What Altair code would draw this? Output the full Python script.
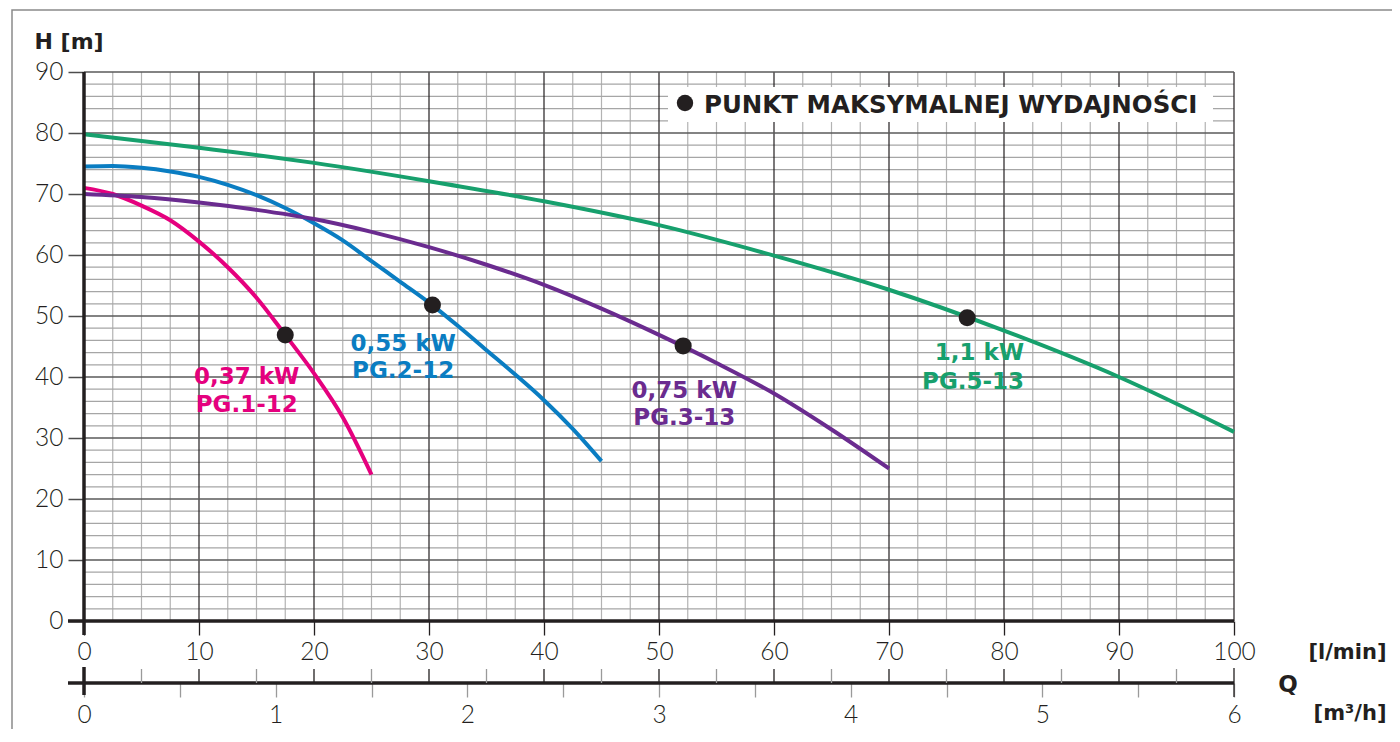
import altair as alt
import numpy as np
import pandas as pd

# ---------------- data ----------------
pink_q = [0, 2.5, 5, 7.5, 10, 12.5, 15, 17.5, 20, 22.5, 25]
pink_h = [71.0, 70.0, 68.1, 65.7, 62.2, 58.0, 53.0, 46.9, 40.6, 33.4, 24.0]

blue_q = [0, 2.5, 5, 7.5, 10, 12.5, 15, 17.5, 20, 22.5, 25, 27.5, 30, 32.5, 35, 37.5, 40, 42.5, 45]
blue_h = [74.5, 74.6, 74.3, 73.7, 72.8, 71.5, 69.8, 67.7, 65.2, 62.4, 59.0, 55.6, 52.2, 48.4, 44.4, 40.4, 36.2, 31.5, 26.2]

purple_q = [0, 5, 10, 15, 20, 25, 30, 35, 40, 45, 50, 55, 60, 65, 70]
purple_h = [70.0, 69.5, 68.6, 67.4, 65.9, 63.8, 61.3, 58.4, 55.1, 51.2, 46.9, 42.3, 37.3, 31.4, 25.0]

green_q = [0, 10, 20, 30, 40, 50, 60, 70, 80, 90, 100]
green_h = [79.8, 77.6, 75.1, 72.1, 68.8, 64.9, 59.9, 54.3, 47.6, 40.0, 31.0]

series_names = ["PG.1-12", "PG.2-12", "PG.3-13", "PG.5-13"]
series_power = ["0,37 kW", "0,55 kW", "0,75 kW", "1,1 kW"]
series_colors = ["#e5007e", "#0a7dc2", "#6a2b8f", "#17a06d"]

max_q = [17.5, 30.3, 52.1, 76.8]
max_h = [46.9, 51.8, 45.1, 49.7]

# label anchors (data coordinates)
label_q = [14.15, 27.75, 52.2, 81.75]
label_h_power = [40.0, 45.4, 37.7, 43.9]
label_h_name = [35.4, 41.0, 33.2, 39.2]
label_align = ["center", "center", "center", "right"]

x_ticks = list(range(0, 101, 10))
y_ticks = list(range(0, 91, 10))
m3h_ticks = [i / 2 for i in range(0, 13)]
legend_text = "PUNKT MAKSYMALNEJ WYDAJNOŚCI"

# ---------------- tables ----------------
curves = pd.concat([
    pd.DataFrame({"q": q, "h": h, "series": s})
    for q, h, s in zip([pink_q, blue_q, purple_q, green_q],
                       [pink_h, blue_h, purple_h, green_h], series_names)
], ignore_index=True)
points = pd.DataFrame({"q": max_q, "h": max_h, "series": series_names})
labels = pd.DataFrame({"q": label_q, "hp": label_h_power, "hn": label_h_name,
                       "power": series_power, "series": series_names, "align": label_align})

v_minor = pd.DataFrame({"v": [v for v in np.arange(0, 100.01, 2.5) if v % 10 != 0]})
v_major = pd.DataFrame({"v": x_ticks[1:]})
h_minor = pd.DataFrame({"h": [v for v in range(0, 91, 2) if v % 10 != 0]})
h_major = pd.DataFrame({"h": y_ticks[1:]})
up_grey = pd.DataFrame({"v": [v for v in range(5, 100, 10)]})
up_black = pd.DataFrame({"v": x_ticks[1:-1]})
one = pd.DataFrame({"t": [legend_text]})

W, H = 1150, 549
INK = "#231f20"
SEC = H + 62  # secondary axis line position (pixels from top of plot)
TICK_FONT = dict(labelFont="Lato", labelFontSize=24.5, labelFontWeight=300, labelColor=INK)

cscale = alt.Scale(domain=series_names, range=series_colors)

x_axis = alt.Axis(values=x_ticks, orient="bottom", tickSize=14, tickColor=INK, tickWidth=1.3,
                  domain=False, grid=False, labelPadding=5, labelFlush=False, labelOverlap=False,
                  title="[l/min]", titleFont="DejaVu Sans", titleFontSize=21, titleFontWeight="bold",
                  titleColor=INK, titleAngle=0, titleAlign="right", titleBaseline="middle",
                  titleX=1302, titleY=31, **TICK_FONT)
y_axis = alt.Axis(values=y_ticks, orient="left", tickSize=16, tickColor="#4d4d4d", tickWidth=1.5,
                  domain=False, grid=False, labelPadding=5, labelFlush=False, labelOverlap=False,
                  title="H [m]", titleFont="DejaVu Sans", titleFontSize=22, titleFontWeight="bold",
                  titleColor=INK, titleAngle=0, titleAlign="left", titleBaseline="middle",
                  titleX=-50, titleY=-31, **TICK_FONT)
m3h_axis = alt.Axis(values=m3h_ticks, orient="bottom", offset=62, tickSize=14, tickColor="#9a9a9a",
                    tickWidth=1.3, domain=False, grid=False, labelPadding=6, labelFlush=False,
                    labelOverlap=False,
                    labelExpr="datum.value % 1 === 0 ? format(datum.value, 'd') : ''",
                    title="[m³/h]", titleFont="DejaVu Sans", titleFontSize=21, titleFontWeight="bold",
                    titleColor=INK, titleAngle=0, titleAlign="right", titleBaseline="middle",
                    titleX=1302, titleY=30, **TICK_FONT)


def X(f, axis=None):
    return alt.X(f, type="quantitative", scale=alt.Scale(domain=[0, 100], nice=False, zero=False), axis=axis)


def Y(f):
    # identical axis spec on every layer so the shared y axis merges cleanly
    return alt.Y(f, type="quantitative", scale=alt.Scale(domain=[0, 90], nice=False, zero=False),
                 axis=y_axis, title="H [m]")


frame = alt.Chart(one).mark_rect(fillOpacity=0, stroke="#8a8a8a", strokeWidth=1.5).encode(
    x=alt.value(-72), x2=alt.value(W + 400), y=alt.value(-62), y2=alt.value(H + 400))

g_vminor = alt.Chart(v_minor).mark_rule(color="#b3b3b3", strokeWidth=1.2).encode(x=X("v"))
g_hminor = alt.Chart(h_minor).mark_rule(color="#a6a6a6", strokeWidth=1.2).encode(y=Y("h"))
g_vmajor = alt.Chart(v_major).mark_rule(color=INK, strokeWidth=1.2).encode(x=X("v"))
g_hmajor = alt.Chart(h_major).mark_rule(color="#5a5a5a", strokeWidth=1.6).encode(y=Y("h"))

legend_box = alt.Chart(one).mark_rect(color="white").encode(
    x=alt.value(584), x2=alt.value(1129), y=alt.value(15), y2=alt.value(50))

lines = alt.Chart(curves).mark_line(strokeWidth=4, interpolate="monotone").encode(
    x=X("q", x_axis), y=Y("h"),
    color=alt.Color("series:N", scale=cscale, legend=None),
    detail="series:N")

thick_y = alt.Chart(one).mark_rule(color=INK, strokeWidth=3.5).encode(
    x=alt.value(0), y=alt.value(0), y2=alt.value(H + 14))
thick_x = alt.Chart(one).mark_rule(color=INK, strokeWidth=3.5).encode(
    y=alt.value(H), x=alt.value(-16), x2=alt.value(W))
sec_line = alt.Chart(one).mark_rule(color=INK, strokeWidth=3.5).encode(
    y=alt.value(SEC), x=alt.value(-16), x2=alt.value(W))
sec_cross = alt.Chart(one).mark_rule(color=INK, strokeWidth=3.5).encode(
    x=alt.value(0), y=alt.value(SEC - 16), y2=alt.value(SEC + 12))
sec_end = alt.Chart(one).mark_rule(color=INK, strokeWidth=1.3).encode(
    x=alt.value(W), y=alt.value(SEC - 15), y2=alt.value(SEC + 14))
up_g = alt.Chart(up_grey).mark_rule(color="#9a9a9a", strokeWidth=1.3).encode(
    x=X("v"), y=alt.value(SEC - 14), y2=alt.value(SEC))
up_b = alt.Chart(up_black).mark_rule(color=INK, strokeWidth=1.3).encode(
    x=X("v"), y=alt.value(SEC - 14), y2=alt.value(SEC))

pts = alt.Chart(points).mark_point(filled=True, opacity=1, color=INK, size=290).encode(
    x=X("q"), y=Y("h"))

lab_font = dict(font="DejaVu Sans", fontSize=23, fontWeight="bold", baseline="middle")
col = alt.Color("series:N", scale=cscale, legend=None)
lab_c_p = alt.Chart(labels).transform_filter("datum.align == 'center'").mark_text(align="center", **lab_font).encode(
    x=X("q"), y=Y("hp"), text="power:N", color=col)
lab_c_n = alt.Chart(labels).transform_filter("datum.align == 'center'").mark_text(align="center", **lab_font).encode(
    x=X("q"), y=Y("hn"), text="series:N", color=col)
lab_r_p = alt.Chart(labels).transform_filter("datum.align == 'right'").mark_text(align="right", **lab_font).encode(
    x=X("q"), y=Y("hp"), text="power:N", color=col)
lab_r_n = alt.Chart(labels).transform_filter("datum.align == 'right'").mark_text(align="right", **lab_font).encode(
    x=X("q"), y=Y("hn"), text="series:N", color=col)

leg_dot = alt.Chart(one).mark_point(filled=True, opacity=1, color=INK, size=270).encode(
    x=alt.value(601), y=alt.value(31))
leg_text = alt.Chart(one).mark_text(align="left", baseline="middle", font="DejaVu Sans", fontSize=24.5,
                                    fontWeight="bold", color=INK).encode(
    x=alt.value(620), y=alt.value(34), text="t:N")

q_text = alt.Chart(pd.DataFrame({"t": ["Q"]})).mark_text(
    align="center", baseline="middle", font="DejaVu Sans", fontSize=23, fontWeight="bold", color=INK).encode(
    x=alt.value(1204), y=alt.value(SEC + 2), text="t:N")

m3h_layer = alt.Chart(pd.DataFrame({"m": [0, 6]})).mark_point(opacity=0).encode(
    x=alt.X("m:Q", scale=alt.Scale(domain=[0, 6], nice=False, zero=False), axis=m3h_axis))

chart = alt.layer(frame, g_vminor, g_hminor, g_vmajor, g_hmajor, legend_box, lines,
                  thick_y, thick_x, sec_line, sec_cross, sec_end, up_g, up_b,
                  pts, lab_c_p, lab_c_n, lab_r_p, lab_r_n, leg_dot, leg_text, q_text,
                  m3h_layer).resolve_scale(x="independent").properties(
    width=W, height=H,
    autosize=alt.AutoSizeParams(type="none"),
    padding={"left": 76, "top": 64, "right": 158, "bottom": 108},
).configure_view(stroke=None)

chart.save("out.html", embed_options={"renderer": "svg", "actions": False})
